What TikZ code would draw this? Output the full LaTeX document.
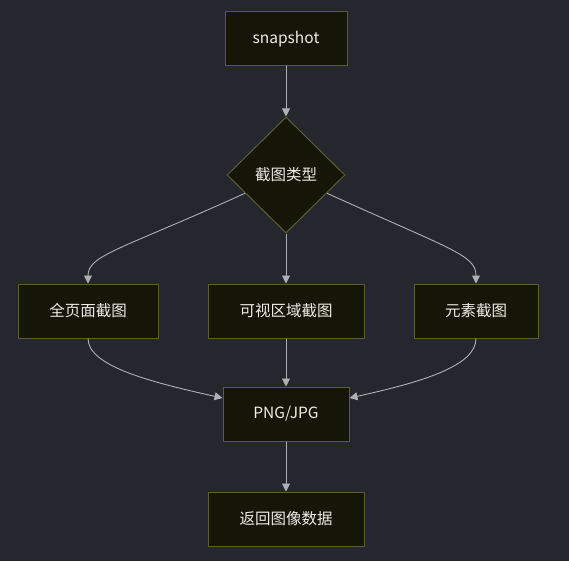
\documentclass[tikz,border=0pt]{standalone}
\usepackage{fontspec}
\setmainfont{Noto Sans CJK SC}
\usetikzlibrary{shapes.geometric,arrows.meta}
\definecolor{bg}{RGB}{38,38,46}
\definecolor{nodefill}{RGB}{22,22,8}
\definecolor{nodeborder}{RGB}{88,96,48}
\definecolor{txt}{RGB}{236,236,232}
\definecolor{edge}{RGB}{175,175,180}
\tikzset{
  box/.style={draw=nodeborder, fill=nodefill, line width=1pt, minimum height=54pt, text=txt, font=\fontsize{15.5}{17}\selectfont, inner sep=0pt},
  dia/.style={diamond, draw=nodeborder, fill=nodefill, line width=1pt, minimum width=118pt, minimum height=116pt, text=txt, font=\fontsize{15.5}{17}\selectfont, inner sep=0pt},
  link/.style={draw=edge, line width=0.9pt, -{Triangle[length=8pt,width=8pt,fill=edge]}}
}
\begin{document}
\begin{tikzpicture}[x=1pt,y=-1pt]
\fill[bg] (0,0) rectangle (569,561);
\useasboundingbox (0,0) rectangle (569,561);
\node[box, minimum width=122pt] (snap) at (286,39) {snapshot};
\node[dia] (type) at (286,175) {截图类型};
\node[box, minimum width=140pt] (full) at (88,311) {全页面截图};
\node[box, minimum width=156pt] (view) at (286,311) {可视区域截图};
\node[box, minimum width=124pt] (elem) at (476,311) {元素截图};
\node[box, minimum width=126pt] (png) at (286,414) {PNG/JPG};
\node[box, minimum width=156pt] (ret) at (286,519) {返回图像数据};
\draw[link] (snap.south) -- (type.north);
\draw[link] (type.204) .. controls (120,250) and (88,255) .. (full.north);
\draw[link] (type.south) -- (view.north);
\draw[link] (type.336) .. controls (452,250) and (476,255) .. (elem.north);
\draw[link] (full.south) .. controls (88,366) and (150,382) .. ([yshift=16pt]png.west);
\draw[link] (view.south) -- (png.north);
\draw[link] (elem.south) .. controls (476,366) and (422,382) .. ([yshift=16pt]png.east);
\draw[link] (png.south) -- (ret.north);
\end{tikzpicture}
\end{document}
